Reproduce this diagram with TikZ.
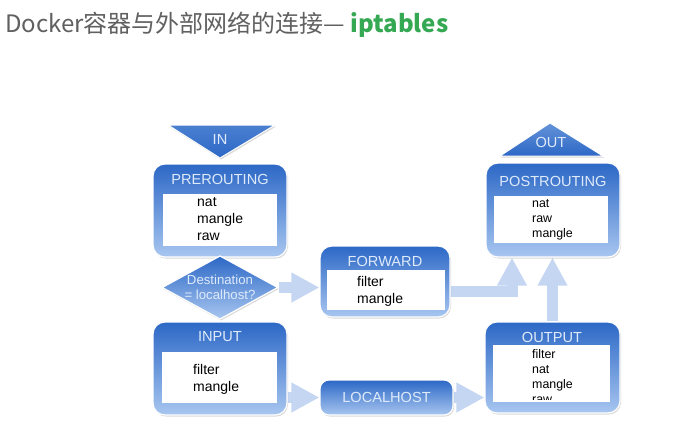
\documentclass[tikz,border=0pt]{standalone}
\usepackage{fontspec}
\setmainfont{Liberation Sans}
\newfontfamily\cjk{Noto Sans CJK SC}
\usepackage{xcolor}
\usetikzlibrary{arrows.meta,positioning,calc,shapes,shadows,backgrounds}

\definecolor{boxtop}{RGB}{44,104,198}
\definecolor{boxbot}{RGB}{168,198,240}
\definecolor{headtxt}{RGB}{222,234,250}
\definecolor{flowblue}{RGB}{196,214,242}
\definecolor{titlegray}{RGB}{96,96,96}
\definecolor{titlegreen}{RGB}{52,168,83}

\begin{document}
\begin{tikzpicture}[x=1pt, y=-1pt,
    chainbox/.style={rounded corners=12pt, top color=boxtop, bottom color=boxbot, draw=white, line width=1.2pt,
        drop shadow={shadow xshift=1pt, shadow yshift=-1.5pt, opacity=0.3}, inner sep=0},
    tablebox/.style={fill=white, inner sep=0},
    chaintitle/.style={text=headtxt, font=\fontsize{14.6}{17}\selectfont, inner sep=0},
    rulename/.style={font=\fontsize{14}{17}\selectfont, inner sep=0, anchor=base west},
    smallrule/.style={rulename, font=\fontsize{12.4}{15}\selectfont},
    portal/.style={draw=white, line width=1pt, drop shadow={shadow xshift=1pt, shadow yshift=-1.5pt, opacity=0.3}},
    decision/.style={diamond, top color=boxtop, bottom color=boxbot, draw=white, line width=1.2pt,
        minimum width=116pt, minimum height=59pt, inner sep=-8pt, align=center, text=headtxt,
        font=\fontsize{13.2}{15}\selectfont, drop shadow={shadow xshift=1pt, shadow yshift=-1.5pt, opacity=0.3}},
    flow/.style={draw=flowblue, line width=11pt, -{Triangle[length=28pt, width=28pt]}}
]
    \useasboundingbox (0,0) rectangle (681,424);

    % Title
    \node[anchor=base west, inner sep=0, font=\cjk\fontsize{24}{28}\selectfont, text=titlegray] (title) at (5,32)
        {Docker容器与外部网络的连接— {\bfseries\color{titlegreen}iptables}};

    % IN / OUT
    \shade[portal, top color=boxtop!75!boxbot, bottom color=boxtop] (168,125) -- (275,125) -- (220,158) -- cycle;
    \node[chaintitle] (in) at (220,139) {IN};
    \shade[portal, top color=boxtop!55!boxbot, bottom color=boxtop] (500,156) -- (550,123) -- (603,156) -- cycle;
    \node[chaintitle] (out) at (551,142) {OUT};

    % PREROUTING
    \node[chainbox, minimum width=134pt, minimum height=93pt] (pre) at (220,210.5) {};
    \node[tablebox, minimum width=114pt, minimum height=52pt] (pre-tab) at (220,220) {};
    \node[chaintitle] (pre-title) at (220,179) {PREROUTING};
    \foreach \rl [count=\i] in {nat,mangle,raw}
        \node[rulename] (pre-\i) at (197,189+17*\i) {\rl};

    % Destination check
    \node[decision] (dest) at (220,287.5) {Destination\\= localhost?};

    % FORWARD
    \node[chainbox, minimum width=130pt, minimum height=71pt] (fwd) at (385,281.5) {};
    \node[tablebox, minimum width=118pt, minimum height=40pt] (fwd-tab) at (386,290) {};
    \node[chaintitle] (fwd-title) at (385,261) {FORWARD};
    \foreach \rl [count=\i] in {filter,mangle}
        \node[rulename] (fwd-\i) at (357,269+17*\i) {\rl};

    % INPUT
    \node[chainbox, minimum width=134pt, minimum height=93pt] (inp) at (220,368.5) {};
    \node[tablebox, minimum width=115pt, minimum height=51pt] (inp-tab) at (219.5,377.5) {};
    \node[chaintitle] (inp-title) at (220,337) {INPUT};
    \foreach \rl [count=\i] in {filter,mangle}
        \node[rulename] (inp-\i) at (193,357+17*\i) {\rl};

    % LOCALHOST
    \node[chainbox, rounded corners=9pt, minimum width=133pt, minimum height=35pt] (local) at (386.5,397.5) {};
    \node[chaintitle] (local-title) at (386.5,397.5) {LOCALHOST};

    % POSTROUTING
    \node[chainbox, minimum width=134pt, minimum height=94pt] (post) at (553,210) {};
    \node[tablebox, minimum width=114pt, minimum height=47pt] (post-tab) at (551,219.5) {};
    \node[chaintitle] (post-title) at (553,181) {POSTROUTING};
    \foreach \rl [count=\i] in {nat,raw,mangle}
        \node[smallrule] (post-\i) at (532,192+15*\i) {\rl};

    % OUTPUT (last rule cut off by the table)
    \node[chainbox, minimum width=135pt, minimum height=91pt] (outp) at (552.5,367.5) {};
    \node[tablebox, minimum width=117pt, minimum height=57pt] (outp-tab) at (551.5,373.5) {};
    \node[chaintitle] (outp-title) at (552,337) {OUTPUT};
    \begin{scope}
        \clip (outp-tab.north west) rectangle ([yshift=2.5pt]outp-tab.south east);
        \foreach \rl [count=\i] in {filter,nat,mangle,raw}
            \node[smallrule] (outp-\i) at (532,343+15*\i) {\rl};
    \end{scope}

    % Flow arrows
    \begin{scope}[on background layer]
        \draw[flow] (dest.east) -- (dest.east -| fwd.west);
        \draw[flow] ([yshift=-10pt]fwd.east) -| ([xshift=-41pt]post.south);
        \draw[flow] (outp.north) -- (outp.north |- post.south);
        \draw[flow] (inp.east |- local.west) -- (local.west);
        \draw[flow] (local.east) -- (local.east -| outp.west);
    \end{scope}
\end{tikzpicture}
\end{document}
